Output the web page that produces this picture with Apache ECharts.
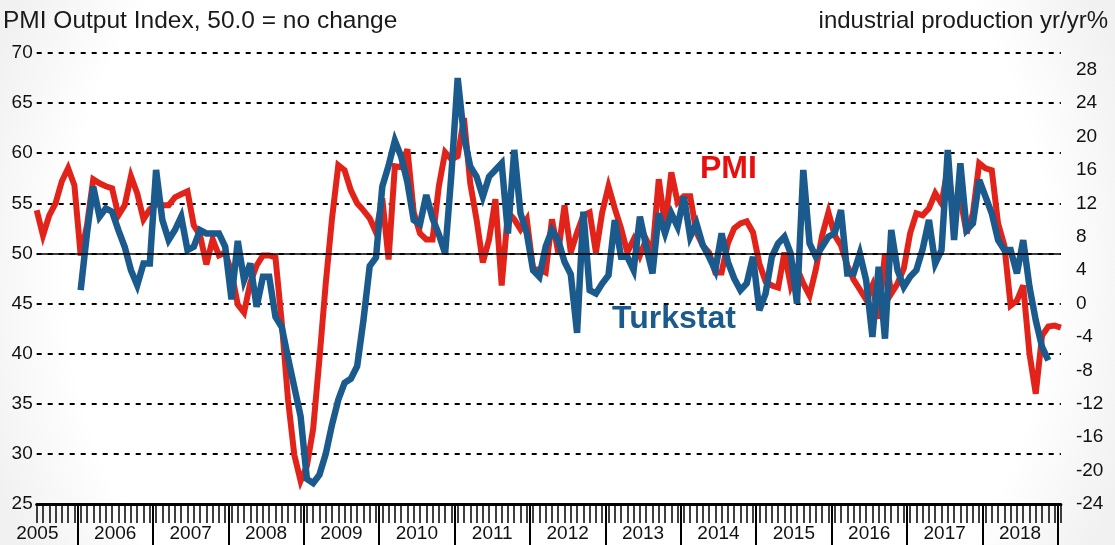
<!DOCTYPE html>
<html>
<head>
<meta charset="utf-8">
<script src="https://cdn.jsdelivr.net/npm/echarts@6/dist/echarts.min.js"></script>
<style>
html, body { margin: 0; padding: 0; background: #fff; }
#chart { width: 1115px; height: 545px; }
</style>
</head>
<body>
<div id="chart"></div>
<script>
// monthly series, first point = Jun 2005, last = Jan 2019
var years = ['2005','2006','2007','2008','2009','2010','2011','2012','2013','2014','2015','2016','2017','2018'];
var monthsIn2005 = 7; // Jun..Dec 2005

// PMI Output Index (left axis)
var pmiOutput = [
  54.3, 51.8, 53.8, 55.0, 57.2, 58.5, 56.8,
  49.8, 52.8, 57.4, 57.0, 56.7, 56.5, 53.8, 54.8, 57.7, 56.0, 53.4, 54.4,
  54.9, 54.8, 54.8, 55.6, 55.9, 56.2, 52.8, 51.8, 48.9, 51.4, 49.8, 50.1,
  48.1, 44.9, 44.1, 47.1, 48.8, 49.8, 49.8, 49.6, 43.1, 35.4, 29.9, 27.3,
  28.8, 32.5, 39.5, 47.0, 53.5, 58.8, 58.3, 56.3, 55.0, 54.3, 53.5, 52.1,
  55.5, 49.4, 58.7, 58.6, 60.4, 54.1, 52.0, 51.4, 51.4, 56.7, 60.1, 59.4,
  59.7, 63.5, 57.0, 53.4, 49.1, 51.4, 55.4, 46.8, 54.1, 53.4, 52.4, 53.4,
  48.4, 48.4, 48.1, 53.4, 50.1, 54.8, 50.1, 52.1, 53.8, 54.1, 50.1, 54.1,
  56.7, 54.5, 52.5, 50.1, 51.4, 49.8, 51.4, 50.1, 57.4, 52.8, 58.1, 55.1,
  55.7, 55.7, 52.1, 50.8, 50.1, 48.1, 48.1, 51.0, 52.5, 53.0, 53.2, 52.1,
  49.0, 47.2, 46.8, 46.6, 50.1, 46.8, 48.5, 47.0, 45.8, 48.4, 51.8, 54.1,
  51.8, 50.8, 48.8, 47.4, 46.4, 45.4, 46.8, 43.5, 50.0, 46.0, 47.0, 48.5,
  52.0, 54.0, 53.8, 54.5, 56.0, 55.0, 58.5, 54.0, 55.5, 52.0, 54.0, 59.0,
  58.5, 58.3, 53.0, 50.8, 44.8, 45.3, 46.8, 40.0, 36.0, 41.8, 42.7, 42.8,
  42.6
];

// Turkstat industrial production, % yr/yr (right axis)
var turkstatIP = [
  null, null, null, null, null, null, null,
  1.6, 8.4, 14.0, 10.4, 11.4, 11.0, 8.8, 6.8, 4.0, 2.2, 4.8, 4.8,
  16.0, 10.0, 7.6, 8.8, 10.4, 6.4, 6.8, 8.8, 8.4, 8.4, 8.4, 6.8,
  0.5, 7.5, 2.8, 4.8, -0.4, 3.2, 3.2, -1.6, -2.8, -6.5, -10.0, -13.5,
  -21.0, -21.5, -20.5, -18.0, -14.5, -11.5, -9.5, -9.0, -7.5, -2.0, 4.5, 5.5,
  14.0, 16.5, 19.5, 17.6, 14.5, 10.0, 9.5, 13.0, 10.2, 8.3, 6.0, 15.5,
  27.0, 20.0, 16.4, 15.2, 12.8, 15.2, 16.0, 16.8, 8.4, 18.4, 10.8, 8.4,
  4.0, 3.2, 6.8, 8.8, 7.6, 5.0, 3.5, -3.5, 11.0, 1.6, 1.2, 2.4,
  3.4, 10.0, 5.6, 5.6, 4.0, 10.4, 6.8, 3.6, 10.8, 8.4, 10.8, 9.2,
  12.8, 8.0, 9.6, 7.0, 5.6, 4.0, 8.4, 5.0, 3.0, 1.6, 2.4, 5.6,
  -0.8, 1.2, 5.6, 7.2, 8.0, 6.0, 0.0, 16.0, 7.2, 5.6, 6.8, 8.0,
  8.4, 11.2, 3.6, 3.6, 6.0, 2.8, -4.0, 4.4, -4.2, 8.8, 4.0, 2.0,
  3.2, 4.0, 6.5, 10.0, 4.8, 6.4, 18.4, 7.6, 16.8, 8.8, 9.6, 14.8,
  12.8, 10.8, 7.6, 6.4, 6.4, 3.6, 7.6, 2.0, -2.0, -5.2, -6.8, null,
  null
];

var lastIdx = pmiOutput.length - 1;

// year boundaries sit half a month before each January
var yearBreaks = [];
for (var y = 1; y <= years.length; y++) yearBreaks.push(monthsIn2005 + 12 * (y - 1) - 0.5);
// label positions: mid-year, first (partial) year at the start
var yearMids = [0.1];
for (var y = 1; y < years.length; y++) yearMids.push(monthsIn2005 + 12 * (y - 1) + 5.5);

function yearOf(v) {
  if (v < monthsIn2005 - 0.5) return years[0];
  return years[1 + Math.floor((v - monthsIn2005 + 0.5) / 12)];
}

function toPairs(arr) {
  return arr.map(function (v, i) { return [i, v]; });
}

var font = 'Arial, "Liberation Sans", sans-serif';
var chart = echarts.init(document.getElementById('chart'));

var option = {
  animation: false,
  backgroundColor: {
    type: 'radial', x: 0.5, y: 0.5, r: 1.1,
    colorStops: [
      { offset: 0, color: '#ffffff' },
      { offset: 0.82, color: '#ffffff' },
      { offset: 1, color: '#f1f1f1' }
    ]
  },
  textStyle: { fontFamily: font },
  title: [
    { text: 'PMI Output Index, 50.0 = no change', left: 3, top: 9, padding: 0,
      textStyle: { fontSize: 24.5, fontWeight: 'normal', color: '#1a1a1a', fontFamily: font } },
    { text: 'industrial production yr/yr%', right: 7, top: 9, padding: 0,
      textStyle: { fontSize: 24, fontWeight: 'normal', color: '#1a1a1a', fontFamily: font } }
  ],
  grid: { left: 36.7, right: 54.1, top: 53, bottom: 41, containLabel: false },
  xAxis: [
    {
      type: 'value', min: 0, max: lastIdx, interval: 1, position: 'bottom',
      axisLine: { show: true, onZero: false, lineStyle: { color: '#000', width: 3 } },
      axisTick: { show: true, length: 19, lineStyle: { color: '#000', width: 1.5 } },
      axisLabel: { show: false },
      splitLine: { show: false }
    },
    {
      type: 'value', min: 0, max: lastIdx, position: 'bottom',
      axisLine: { show: false, onZero: false },
      axisTick: { show: true, length: 41, customValues: yearBreaks, lineStyle: { color: '#000', width: 2 } },
      axisLabel: {
        customValues: yearMids, margin: 20, fontSize: 19, color: '#111', fontFamily: font,
        formatter: function (v) { return yearOf(v); }
      },
      splitLine: { show: false }
    }
  ],
  yAxis: [
    {
      type: 'value', min: 25, max: 70, interval: 5, position: 'left',
      axisLine: { show: false }, axisTick: { show: false },
      axisLabel: { fontSize: 19, color: '#111', margin: 4, padding: [7, 0, 0, 0], fontFamily: font },
      splitLine: { show: true, lineStyle: { color: '#000', type: [5, 6], width: 1.8 } }
    },
    {
      type: 'value', min: -24, max: 30, interval: 4, position: 'right',
      axisLine: { show: false }, axisTick: { show: false },
      axisLabel: { fontSize: 19, color: '#111', margin: 15, padding: [7, 0, 0, 0], showMaxLabel: false, fontFamily: font },
      splitLine: { show: false }
    }
  ],
  graphic: [
    { type: 'text', left: 700, top: 153, z: 100,
      style: { text: 'PMI', fill: '#e8100f', font: 'bold 32px ' + font } },
    { type: 'text', left: 612, top: 303, z: 100,
      style: { text: 'Turkstat', fill: '#1b5a8c', font: 'bold 32px ' + font } }
  ],
  series: [
    {
      name: 'no change', type: 'line', xAxisIndex: 0, yAxisIndex: 0, data: [], z: 1,
      markLine: {
        silent: true, symbol: 'none', label: { show: false },
        lineStyle: { color: '#000', type: 'solid', width: 1.6 },
        data: [{ yAxis: 50 }]
      }
    },
    {
      name: 'PMI', type: 'line', xAxisIndex: 0, yAxisIndex: 0, z: 2,
      data: toPairs(pmiOutput), showSymbol: false, symbol: 'none',
      lineStyle: { color: '#e2231a', width: 6, join: 'miter', miterLimit: 4 }
    },
    {
      name: 'Turkstat', type: 'line', xAxisIndex: 0, yAxisIndex: 1, z: 3,
      data: toPairs(turkstatIP), showSymbol: false, symbol: 'none', connectNulls: false,
      lineStyle: { color: '#1b5a8c', width: 6.5, join: 'miter', miterLimit: 4 }
    }
  ]
};

chart.setOption(option);
</script>
</body>
</html>
